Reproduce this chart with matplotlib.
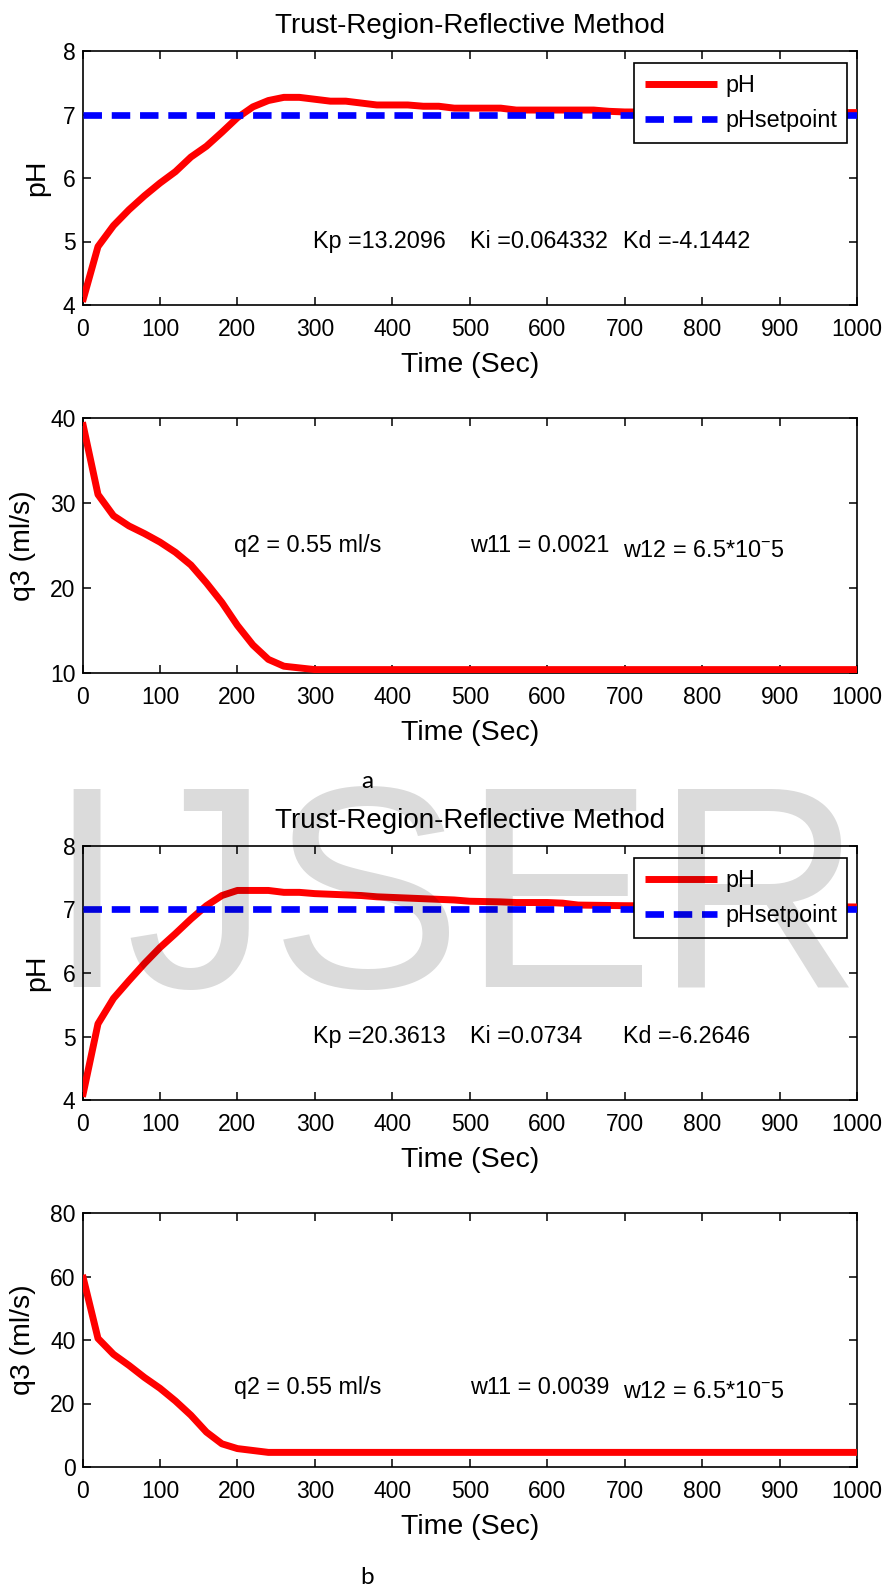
import matplotlib
matplotlib.use('Agg')
import matplotlib.pyplot as plt

plt.rcParams['font.family'] = ['Liberation Sans', 'DejaVu Sans']
plt.rcParams['mathtext.fontset'] = 'custom'
plt.rcParams['mathtext.rm'] = 'Liberation Sans'
plt.rcParams['mathtext.it'] = 'Liberation Sans:italic'
plt.rcParams['mathtext.bf'] = 'Liberation Sans:bold'

# ---------------- data ----------------
time_a_ph = [0, 20, 40, 60, 80, 100, 120, 140, 160, 180, 200, 220, 240, 260, 280, 300,
             320, 340, 360, 380, 420, 440, 460, 480, 540, 560, 660, 680, 700, 1000]
ph_a = [4.05, 4.92, 5.25, 5.50, 5.72, 5.92, 6.10, 6.33, 6.50, 6.72, 6.95, 7.12, 7.22, 7.27, 7.27, 7.24,
        7.21, 7.21, 7.18, 7.15, 7.15, 7.13, 7.13, 7.10, 7.10, 7.07, 7.07, 7.05, 7.04, 7.03]

time_a_q3 = [0, 20, 40, 60, 80, 100, 120, 140, 160, 180, 200, 220, 240, 260, 280, 300, 1000]
q3_a = [39.5, 31.0, 28.5, 27.3, 26.4, 25.4, 24.2, 22.7, 20.6, 18.3, 15.6, 13.3, 11.6, 10.8, 10.6, 10.4, 10.4]

time_b_ph = [0, 20, 40, 60, 80, 100, 120, 140, 160, 180, 200, 240, 260, 280, 300,
             340, 360, 380, 420, 440, 460, 480, 500, 540, 560, 600, 620, 640, 700, 1000]
ph_b = [4.05, 5.20, 5.60, 5.88, 6.15, 6.40, 6.62, 6.85, 7.06, 7.22, 7.30, 7.30, 7.27, 7.27, 7.25,
        7.23, 7.22, 7.20, 7.18, 7.17, 7.16, 7.15, 7.13, 7.12, 7.11, 7.11, 7.10, 7.07, 7.06, 7.04]

time_b_q3 = [0, 20, 40, 60, 80, 100, 120, 140, 160, 180, 200, 220, 240, 1000]
q3_b = [60.5, 40.5, 35.5, 32.0, 28.2, 24.8, 20.8, 16.3, 11.0, 7.3, 5.8, 5.2, 4.6, 4.6]

ph_setpoint = 7.0

x_ticks = list(range(0, 1001, 100))
ph_ticks = [4, 5, 6, 7, 8]
q3_ticks_a = [10, 20, 30, 40]
q3_ticks_b = [0, 20, 40, 60, 80]

title_text = 'Trust-Region-Reflective Method'
xlabel_text = 'Time (Sec)'
ylabel_ph = 'pH'
ylabel_q3 = 'q3 (ml/s)'
legend_labels = ['pH', 'pHsetpoint']
gains_a = ['Kp =13.2096', 'Ki =0.064332', 'Kd =-4.1442']
gains_b = ['Kp =20.3613', 'Ki =0.0734', 'Kd =-6.2646']
params_a = ['q2 = 0.55 ml/s', 'w11 = 0.0021', r'w12 = 6.5*10$^{-}$5']
params_b = ['q2 = 0.55 ml/s', 'w11 = 0.0039', r'w12 = 6.5*10$^{-}$5']
panel_labels = ['a', 'b']
watermark = 'IJSER'

# ---------------- layout ----------------
W, H = 889, 1589
fig = plt.figure(figsize=(W / 100, H / 100), dpi=100)
fig.patch.set_facecolor('white')

LEFT, RIGHT = 82.5, 857.0


def make_axes(top, bottom):
    return fig.add_axes([LEFT / W, 1 - bottom / H, (RIGHT - LEFT) / W, (bottom - top) / H])


def style(ax, yticks, ylim, ylabel, ylabel_x):
    ax.set_xlim(0, 1000)
    ax.set_ylim(*ylim)
    ax.set_xticks(x_ticks)
    ax.set_yticks(yticks)
    ax.tick_params(direction='in', top=True, right=True, length=6, width=1.1,
                   labelsize=16.5, colors='black')
    ax.tick_params(axis='x', pad=9.5)
    ax.tick_params(axis='y', pad=5)
    for s in ax.spines.values():
        s.set_linewidth(1.2)
    ax.set_xlabel(xlabel_text, fontsize=20.5, labelpad=8)
    ax.set_ylabel(ylabel, fontsize=20.5)
    ax.yaxis.set_label_coords((ylabel_x - LEFT) / (RIGHT - LEFT), 0.5)


RED = '#ff0000'
BLUE = '#0000ff'
ANN_FS = 16.8


def ph_panel(ax, t, ph, gains):
    ax.plot(t, ph, color=RED, lw=5, solid_capstyle='butt', label=legend_labels[0], zorder=3)
    ax.axhline(ph_setpoint, color=BLUE, lw=4.8, dashes=(2.77, 1.47), label=legend_labels[1], zorder=4)
    style(ax, ph_ticks, (4, 8), ylabel_ph, 50)
    ax.set_title(title_text, fontsize=20, pad=13)
    for xpos, txt in zip([298, 500, 698], gains):
        ax.text(xpos, 5.0, txt, fontsize=ANN_FS, ha='left', va='center')
    leg = ax.legend(loc='upper right', bbox_to_anchor=(0.9875, 0.9516), borderaxespad=0,
                    fontsize=ANN_FS, handlelength=3.1, handletextpad=0.34, borderpad=0.45,
                    labelspacing=0.53, fancybox=False, framealpha=1, edgecolor='black')
    leg.get_frame().set_linewidth(1.2)


def q3_panel(ax, t, q, yticks, ylim, params, ytexts):
    ax.plot(t, q, color=RED, lw=5, solid_capstyle='butt', zorder=3)
    style(ax, yticks, ylim, ylabel_q3, 35.5)
    for xpos, ypos, txt in zip([196, 500, 698], ytexts, params):
        ax.text(xpos, ypos, txt, fontsize=ANN_FS, ha='left', va='center')


ax1 = make_axes(51, 305)
ph_panel(ax1, time_a_ph, ph_a, gains_a)

ax2 = make_axes(418, 673)
q3_panel(ax2, time_a_q3, q3_a, q3_ticks_a, (10, 40), params_a, [25, 25, 24.4])

ax3 = make_axes(846, 1100)
ph_panel(ax3, time_b_ph, ph_b, gains_b)

ax4 = make_axes(1213, 1467)
q3_panel(ax4, time_b_q3, q3_b, q3_ticks_b, (0, 80), params_b, [25, 25, 23.8])

fig.text(367 / W, 1 - 781.7 / H, panel_labels[0], fontsize=17.5, ha='center', va='center',
         family=['Lato', 'DejaVu Sans'])
fig.text(367 / W, 1 - 1578 / H, panel_labels[1], fontsize=17.5, ha='center', va='center',
         family=['Lato', 'DejaVu Sans'])

fig.text(46 / W, 1 - 986.5 / H, watermark, fontsize=207.4, color='black', alpha=0.14,
         ha='left', va='baseline', zorder=100)

fig.savefig('out.png', dpi=100)
